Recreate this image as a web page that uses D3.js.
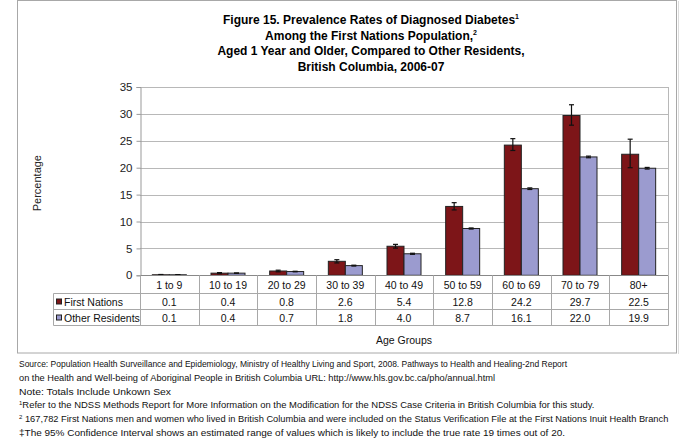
<!DOCTYPE html>
<html><head><meta charset="utf-8">
<script src="https://cdn.jsdelivr.net/npm/d3@7"></script>
<style>body{margin:0;background:#fff}svg{display:block;font-family:"Liberation Sans",Arial,sans-serif}</style>
</head><body>
<svg id="c" width="680" height="441"></svg>
<script>
const categories = ["1 to 9","10 to 19","20 to 29","30 to 39","40 to 49","50 to 59","60 to 69","70 to 79","80+"];
const seriesNames = ["First Nations","Other Residents"];
const firstNations = [0.1,0.4,0.8,2.6,5.4,12.8,24.2,29.7,22.5];
const otherResidents = [0.1,0.4,0.7,1.8,4.0,8.7,16.1,22.0,19.9];
const fnLow  = [0.05,0.3,0.65,2.3,5.05,12.15,23.2,27.9,20.0];
const fnHigh = [0.15,0.5,0.95,2.9,5.75,13.5,25.4,31.7,25.3];
const orLow  = [0.07,0.37,0.65,1.72,3.9,8.6,15.95,21.85,19.75];
const orHigh = [0.13,0.43,0.75,1.88,4.1,8.8,16.25,22.15,20.05];
const yTicks = [0,5,10,15,20,25,30,35];
const titleLines = ["Figure 15. Prevalence Rates of Diagnosed Diabetes","Among the First Nations Population,","Aged 1 Year and Older, Compared to Other Residents,","British Columbia, 2006-07"];
const titleSups = ["1","2","",""];
const footnotes = [
 ["","Source: Population Health Surveillance and Epidemiology, Ministry of Healthy Living and Sport, 2008. Pathways to Health and Healing-2nd Report"],
 ["","on the Health and Well-being of Aboriginal People in British Columbia URL: http://www.hls.gov.bc.ca/pho/annual.html"],
 ["","Note: Totals Include Unkown Sex"],
 ["1","Refer to the NDSS Methods Report for More Information on the Modification for the NDSS Case Criteria in British Columbia for this study."],
 ["2"," 167,782 First Nations men and women who lived in British Columbia and were included on the Status Verification File at the First Nations Inuit Health Branch"],
 ["","\u2021The 95% Confidence Interval shows an estimated range of values which is likely to include the true rate 19 times out of 20."]
];
const footnoteWidths = [548, 476, 152, 572, 646, 546];
const colors = ["#7d1518","#9b9bcf"];

const svg = d3.select("#c");
// outer frame
svg.append("rect").attr("x",17.5).attr("y",0.5).attr("width",659).attr("height",352.5)
  .attr("fill","none").attr("stroke","#a8a8a8");
svg.append("line").attr("x1",678.5).attr("x2",678.5).attr("y1",1).attr("y2",354).attr("stroke","#dcdcdc");

// title
const tt = svg.append("text").attr("text-anchor","middle").attr("font-weight","bold").attr("font-size",12).attr("fill","#000");
titleLines.forEach((l,i)=>{
  tt.append("tspan").attr("x",371).attr("y",24+i*15.5).text(l);
  if(titleSups[i]){
    tt.append("tspan").attr("font-size",7).attr("dy",-5).text(titleSups[i]);
  }
});

const L=140,R=668,T=87,B=275.3;
const x = d3.scaleBand().domain(categories).range([L,R]);
const y = d3.scaleLinear().domain([0,35]).range([B,T]);
const bw = 17;

// gridlines
svg.append("g").selectAll("line").data(yTicks.slice(1)).join("line")
  .attr("x1",L).attr("x2",R).attr("y1",d=>Math.round(y(d))+0.5).attr("y2",d=>Math.round(y(d))+0.5)
  .attr("stroke","#b8b8b8");
svg.append("line").attr("x1",R+0.5).attr("x2",R+0.5).attr("y1",T).attr("y2",B).attr("stroke","#b8b8b8");

// y axis
const ya = svg.append("g").attr("transform",`translate(${L+0.5},0)`)
  .call(d3.axisLeft(y).tickValues(yTicks).tickSize(4).tickPadding(4).tickFormat(d3.format("d")));
ya.select(".domain").attr("stroke","#999");
ya.selectAll(".tick line").attr("stroke","#999");
ya.selectAll("text").attr("font-size",11.5).attr("fill","#222").attr("font-family","Liberation Sans, Arial, sans-serif");

svg.append("text").attr("transform",`translate(41,${(T+B)/2+2}) rotate(-90)`).attr("text-anchor","middle")
  .attr("font-size",11).attr("fill","#222").text("Percentage");

// bars
const data = [firstNations, otherResidents];
const lows = [fnLow, orLow], highs=[fnHigh, orHigh];
data.forEach((vals,s)=>{
  const g = svg.append("g");
  g.selectAll("rect").data(vals).join("rect")
    .attr("x",(d,i)=>x(categories[i])+x.bandwidth()/2 - bw + s*bw)
    .attr("y",d=>y(d)).attr("width",bw).attr("height",d=>B-y(d))
    .attr("fill",colors[s]).attr("stroke","#222").attr("stroke-width",1);
  const e = svg.append("g").attr("stroke","#111").attr("stroke-width",1.2);
  vals.forEach((d,i)=>{
    const cx = x(categories[i])+x.bandwidth()/2 - bw/2 + s*bw;
    const y1=y(highs[s][i]), y2=y(lows[s][i]);
    e.append("line").attr("x1",cx).attr("x2",cx).attr("y1",y1).attr("y2",y2);
    e.append("line").attr("x1",cx-2.5).attr("x2",cx+2.5).attr("y1",y1).attr("y2",y1);
    e.append("line").attr("x1",cx-2.5).attr("x2",cx+2.5).attr("y1",y2).attr("y2",y2);
  });
});
// baseline
svg.append("line").attr("x1",L).attr("x2",R).attr("y1",B+0.2).attr("y2",B+0.2).attr("stroke","#888");

// data table
const tl = 53.5, rows=[293.5,309.5,325.5];
const tg = svg.append("g").attr("stroke","#a8a8a8").attr("fill","none");
categories.forEach((c,i)=>{
  const xx = Math.round(x(c))+0.5;
  tg.append("line").attr("x1",xx).attr("x2",xx).attr("y1",B).attr("y2",rows[2]);
});
tg.append("line").attr("x1",R+0.5).attr("x2",R+0.5).attr("y1",B).attr("y2",rows[2]);
rows.forEach(r=>tg.append("line").attr("x1",tl).attr("x2",R+0.5).attr("y1",r).attr("y2",r));
tg.append("line").attr("x1",tl).attr("x2",tl).attr("y1",rows[0]).attr("y2",rows[2]);

svg.append("g").selectAll("text").data(categories).join("text")
  .attr("x",c=>x(c)+x.bandwidth()/2).attr("y",288.5).attr("text-anchor","middle")
  .attr("font-size",10.5).attr("fill","#111").text(c=>c);
data.forEach((vals,s)=>{
  svg.append("g").selectAll("text").data(vals).join("text")
    .attr("x",(d,i)=>x(categories[i])+x.bandwidth()/2).attr("y",rows[s]+12).attr("text-anchor","middle")
    .attr("font-size",10.5).attr("fill","#111").text(d=>d.toFixed(1));
  svg.append("rect").attr("x",56.5).attr("y",rows[s]+5.5).attr("width",5).attr("height",5)
    .attr("fill",colors[s]).attr("stroke","#222");
  svg.append("text").attr("x",64).attr("y",rows[s]+12).attr("font-size",10.5).attr("fill","#111").text(seriesNames[s]);
});
svg.append("text").attr("x",(L+R)/2).attr("y",344).attr("text-anchor","middle").attr("font-size",10.5).attr("fill","#111").text("Age Groups");

// footnotes
footnotes.forEach((f,i)=>{
  const t = svg.append("text").attr("x",19).attr("y",367+i*13.8).attr("font-size",9).attr("fill","#111");
  if(f[0]) t.append("tspan").attr("font-size",6).attr("dy",-3.5).text(f[0]);
  t.append("tspan").attr("dy",f[0]?3.5:0).attr("textLength",footnoteWidths[i]).attr("lengthAdjust","spacingAndGlyphs").text(f[1]);
});
</script>
</body></html>
